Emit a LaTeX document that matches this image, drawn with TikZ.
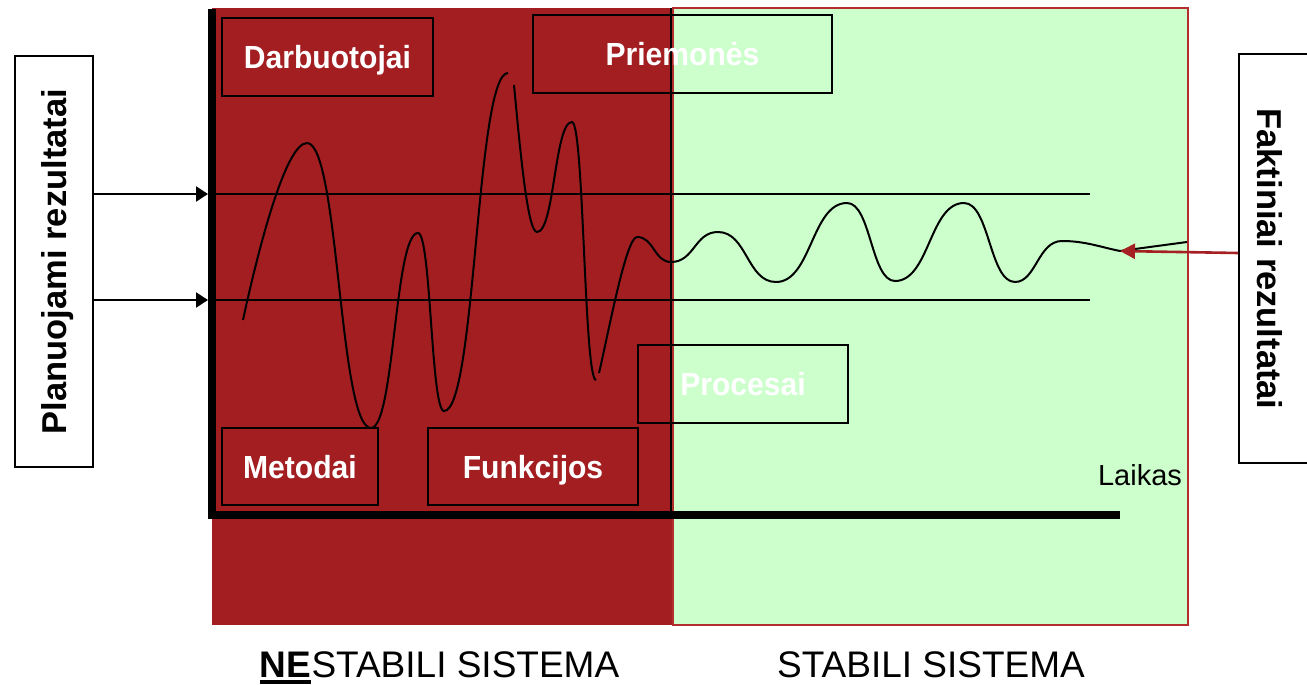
\documentclass[tikz,border=0pt]{standalone}
\usepackage{fontspec}
\usepackage{graphicx}
\setmainfont{Liberation Sans}
\usetikzlibrary{arrows.meta}
\definecolor{unstable}{RGB}{162,30,33}
\definecolor{stable}{RGB}{204,255,204}
\definecolor{stableedge}{RGB}{180,45,45}
\definecolor{factarrow}{RGB}{165,32,35}
% slightly condensed bold label text
\newcommand\condensed[1]{\scalebox{0.94}[1]{#1}}
\begin{document}
\begin{tikzpicture}[x=1pt,y=-1pt,
  factor/.style={draw=black, line width=2pt, text=white, inner sep=0pt,
    font=\fontsize{32}{38}\selectfont\bfseries, text height=23pt, text depth=0pt},
  resultbox/.style={draw=black, line width=2pt, fill=white, inner sep=0pt},
  resulttext/.style={inner sep=0pt, font=\fontsize{34.5}{40}\selectfont\bfseries,
    text height=24.7pt, text depth=0pt},
  guide/.style={line width=2.2pt},
  plan arrow/.style={guide, -{Triangle[length=12pt,width=15pt]}},
  fact arrow/.style={line width=2.6pt, draw=factarrow, -{Triangle[length=15pt,width=15pt]}},
  axis/.style={line width=8pt, line join=miter},
  wave/.style={line width=2pt},
  bottomlab/.style={inner sep=0pt, font=\fontsize{37}{44}\selectfont},
]
\clip (0,0) rectangle (1307,685);
\fill[white] (0,0) rectangle (1307,685);

% unstable and stable regions
\fill[unstable] (212,8) rectangle (673,625);
\draw[stableedge, line width=1.5pt, fill=stable] (673,8) rectangle (1188,625);

% divider between the regions
\coordinate (divtop) at (671,8);
\coordinate (divbot) at (671,515);
\draw[line width=1.6pt] (divtop) -- (divbot);

% tolerance band
\coordinate (hiL) at (212,194);
\coordinate (hiR) at (1090,194);
\coordinate (loL) at (212,300);
\coordinate (loR) at (1090,300);
\draw[guide] (hiL) -- (hiR);
\draw[guide] (loL) -- (loR);

% process output over time
\draw[wave] (243,320) .. controls (257,255) and (285,143) .. (307,143)
  .. controls (339,143) and (339,428) .. (371,428)
  .. controls (394.5,428) and (394.5,233) .. (418,233)
  .. controls (431,233) and (431,411) .. (444,411)
  .. controls (476,411) and (476,73) .. (508,73);
\draw[wave] (514,85) .. controls (521,160) and (528,232) .. (537,232)
  .. controls (554.5,232) and (554.5,122) .. (572,122)
  .. controls (584,122) and (584,380) .. (596,380);
\draw[wave] (599,373) .. controls (608,335) and (626,237) .. (637,237)
  .. controls (654,237) and (654,262) .. (671,262)
  .. controls (694.5,262) and (694.5,232) .. (718,232)
  .. controls (747,232) and (747,282) .. (776,282)
  .. controls (811.5,282) and (811.5,203) .. (847,203)
  .. controls (871,203) and (871,281) .. (895,281)
  .. controls (929.5,281) and (929.5,203) .. (964,203)
  .. controls (989.5,203) and (989.5,282) .. (1015,282)
  .. controls (1036,282) and (1038,241) .. (1062,241)
  .. controls (1085,241) and (1100,247) .. (1120,251)
  -- (1187,242);

% axes
\coordinate (ytop) at (212,9);
\coordinate (origin) at (212,515);
\coordinate (xend) at (1120,515);
\draw[axis] (ytop) -- (origin) -- (xend);
\node[inner sep=0pt, font=\fontsize{29}{34}\selectfont] (laikas) at (1140,475) {Laikas};

% factors
\node[factor, minimum width=211pt, minimum height=78pt] (darb) at (327.5,57) {\condensed{Darbuotojai}};
\node[factor, minimum width=299pt, minimum height=78pt] (priem) at (682.5,54) {\condensed{Priemonės}};
\node[factor, minimum width=210pt, minimum height=78pt] (proc) at (743,384) {\condensed{Procesai}};
\node[factor, minimum width=156pt, minimum height=77pt] (metod) at (300,466.5) {\condensed{Metodai}};
\node[factor, minimum width=210pt, minimum height=77pt] (funk) at (533,466.5) {\condensed{Funkcijos}};

% planned results
\node[resultbox, minimum width=78pt, minimum height=410pt] (plan) at (54,261.5) {};
\node[resulttext, rotate=90] (plantext) at (plan.center) {Planuojami rezultatai};
\draw[plan arrow, shorten >=4pt] (plan.east |- hiL) -- (hiL);
\draw[plan arrow, shorten >=4pt] (plan.east |- loL) -- (loL);

% actual results
\node[resultbox, minimum width=76pt, minimum height=409pt] (fakt) at (1277,258.5) {};
\node[resulttext, rotate=-90] (fakttext) at (1270,259) {Faktiniai rezultatai};
\coordinate (facttip) at (1120,251);
\draw[fact arrow] ([yshift=5.5pt]fakt.west) -- (facttip);

% region captions
\node[bottomlab, anchor=base west] (ne) at (259.5,677) {\bfseries NE};
\node[bottomlab, anchor=base west] (nestab) at (ne.base east) {STABILI SISTEMA};
\draw[line width=3.5pt] ([yshift=-5pt]ne.base west) -- ([yshift=-5pt]ne.base east);
\node[bottomlab, anchor=base] (stab) at (931,677) {STABILI SISTEMA};
\end{tikzpicture}
\end{document}
